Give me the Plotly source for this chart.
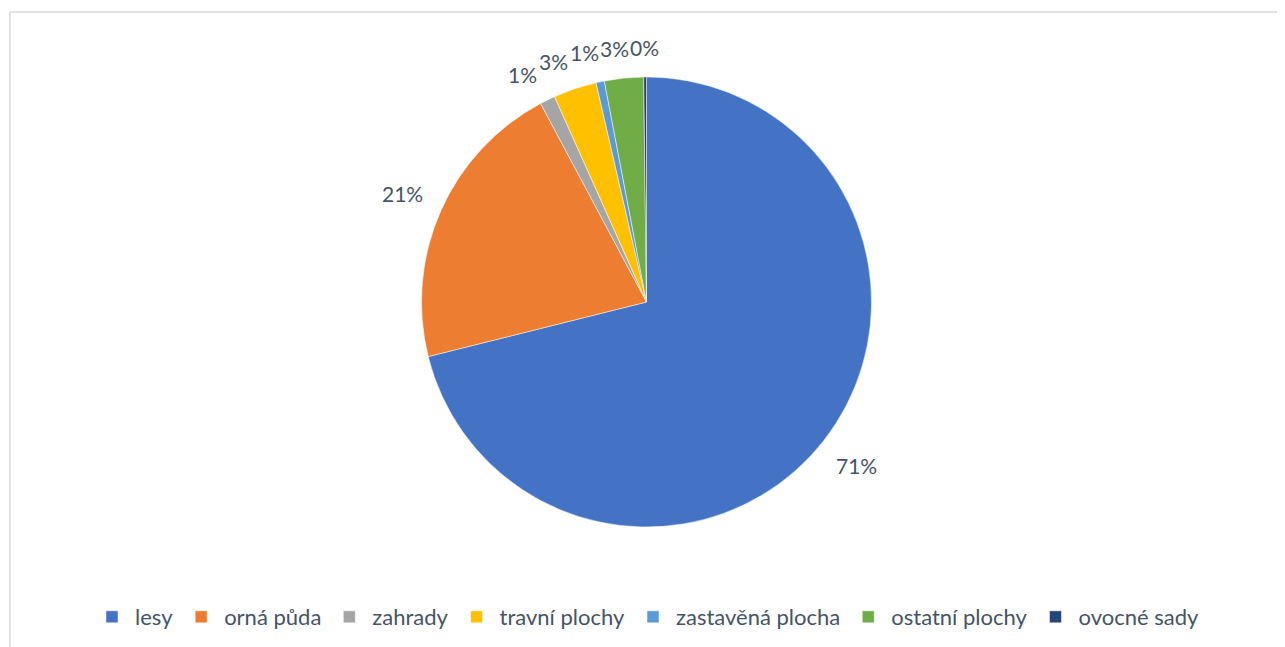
import math
import plotly.graph_objects as go

categories = ["lesy", "orná půda", "zahrady", "travní plochy", "zastavěná plocha", "ostatní plochy", "ovocné sady"]
values = [71.1, 21.1, 1.1, 3.1, 0.6, 2.8, 0.2]
colors = ["#4472C4", "#ED7D31", "#A5A5A5", "#FFC000", "#5B9BD5", "#70AD47", "#264478"]

TEXT = "#44546A"
FONT = "Lato"
W, H = 1285, 647
# the page body adds an 8px offset; margins compensate
ml, mr, mt, mb = 2, 10, 4, 0
pw, ph = W - ml - mr, H - mt - mb
cx, cy, r = ml + pw / 2, 294, 225
y_top = 1 - (cy - r - mt) / ph
y_bot = 1 - (cy + r - mt) / ph

fig = go.Figure(go.Pie(
    labels=categories,
    values=values,
    sort=False,
    direction="clockwise",
    rotation=0,
    marker=dict(colors=colors, line=dict(color="white", width=0.5)),
    textposition="none",
    domain=dict(x=[0, 1], y=[y_bot, y_top]),
    hoverinfo="label+percent",
    automargin=False,
))

# percentage labels placed outside each slice at its mid-angle (derived from the data),
# small neighbouring labels are nudged counter-clockwise so they do not overlap
LBL_SIZE = 21
total = sum(values)
texts, angles = [], []
cum = 0.0
for v in values:
    angles.append((cum + v / 2) / total * 2 * math.pi)
    cum += v
    texts.append(f"{round(v / total * 100)}%")


def place(angle, txt):
    ux, uy = math.sin(angle), -math.cos(angle)
    w, h = 13 * len(txt), 18
    dist = r + 20 + abs(ux) * w / 2 + abs(uy) * h / 2
    return cx + ux * dist, cy + uy * dist, w, h


GAP = 4
pos = [place(a, t) for a, t in zip(angles, texts)]
for i in range(len(values) - 2, -1, -1):
    for _ in range(400):
        x1, y1, w1, h1 = pos[i]
        x2, y2, w2, h2 = pos[i + 1]
        overlap_x = (x1 + w1 / 2 + GAP) > (x2 - w2 / 2) and x1 < x2 + w2
        overlap_y = abs(y1 - y2) < (h1 + h2) / 2
        if not (overlap_x and overlap_y):
            break
        angles[i] -= math.radians(0.2)
        pos[i] = place(angles[i], texts[i])

annotations = []
for (px, py, _, _), txt in zip(pos, texts):
    annotations.append(dict(
        x=(px - ml) / pw, y=1 - (py - mt) / ph, xref="paper", yref="paper",
        text=txt, showarrow=False, xanchor="center", yanchor="middle",
        font=dict(size=LBL_SIZE, color=TEXT, family=FONT),
    ))

fig.update_layout(
    width=W, height=H,
    margin=dict(l=ml, r=mr, t=mt, b=mb),
    paper_bgcolor="white",
    plot_bgcolor="white",
    font=dict(family=FONT, color=TEXT, size=22),
    showlegend=True,
    legend=dict(orientation="h", x=0.5, xanchor="center", y=1 - (609 - mt) / ph, yanchor="middle",
                itemwidth=36,
                font=dict(size=22, color=TEXT, family=FONT)),
    annotations=annotations,
    shapes=[dict(type="rect", xref="paper", yref="paper", x0=0, x1=1, y0=-0.05, y1=1,
                 line=dict(color="#D9D9D9", width=1.5), fillcolor="rgba(0,0,0,0)", layer="below")],
)

fig.write_html("out.html")
